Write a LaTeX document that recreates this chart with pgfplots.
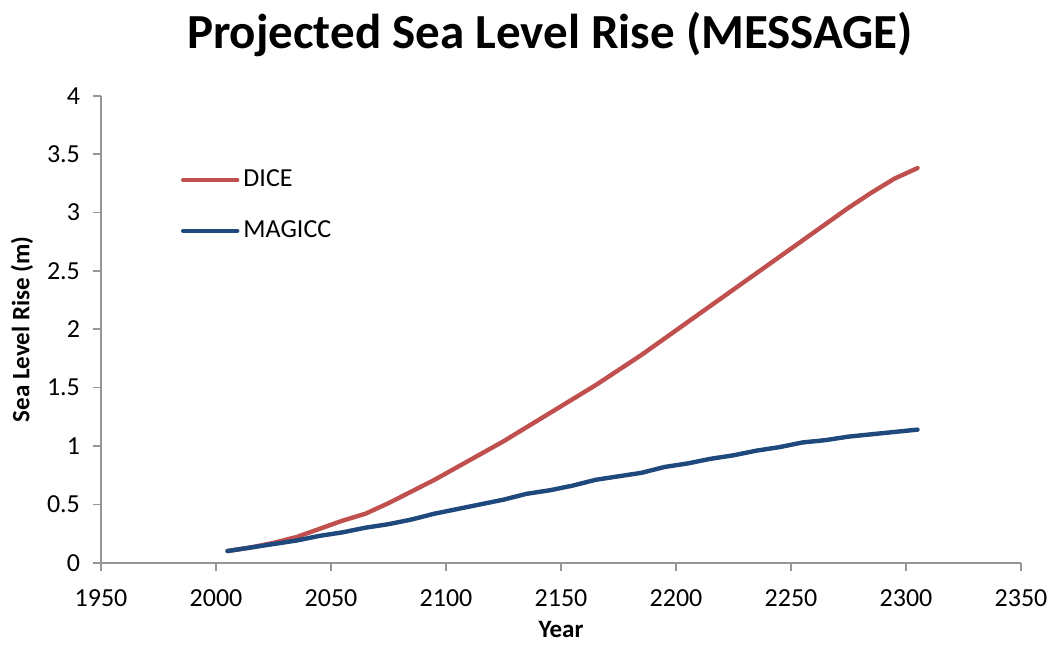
\documentclass[border=0pt]{standalone}
\usepackage{pgfplots}
\pgfplotsset{compat=1.18}
\usepackage{fontspec}
\setmainfont{Carlito}
\definecolor{diceRed}{RGB}{192,80,77}
\definecolor{magBlue}{RGB}{31,73,125}
\definecolor{axGray}{RGB}{150,150,150}
\begin{document}
\begin{tikzpicture}
% page = reference frame, axis box sits at the origin
\path[use as bounding box] (-50.5pt,-41.15pt) rectangle (476pt,281.35pt);
\begin{axis}[
  at={(0,0)}, anchor=south west,
  scale only axis,
  width=460pt, height=233.5pt,
  xmin=1950, xmax=2350, ymin=0, ymax=4,
  xtick distance=50, ytick distance=0.5,
  axis x line*=bottom, axis y line*=left,
  axis line style={axGray, line width=0.8pt},
  tick style={axGray, line width=0.8pt},
  tick align=outside, major tick length=4pt,
  /pgf/number format/assume math mode=true,
  x tick label style={/pgf/number format/set thousands separator={}, font=\fontsize{13}{14}\selectfont, yshift=-6pt},
  y tick label style={font=\fontsize{13}{14}\selectfont, xshift=-3pt},
  xlabel={\textbf{Year}}, ylabel={\textbf{Sea Level Rise (m)}},
  label style={font=\fontsize{12.5}{14}\selectfont},
  xlabel style={yshift=-1.5pt, inner sep=2pt},
  title={\textbf{Projected Sea Level Rise (MESSAGE)}},
  title style={at={(0.488,1)}, anchor=center, yshift=24.5pt, font=\fontsize{24.5}{28}\selectfont},
  legend style={draw=none, fill=none, at={(0.08,0.859)}, anchor=north west,
    font=\fontsize{13}{14}\selectfont, row sep=11.5pt},
  legend cell align=left,
  legend image code/.code={\draw[#1, line cap=round] (0cm,0cm) -- (0.95cm,0cm);},
]
\addplot[diceRed, line width=2.2pt, line cap=round, line join=round] coordinates {
(2005,0.10) (2015,0.13) (2025,0.17) (2035,0.22) (2045,0.29) (2055,0.36)
(2065,0.42) (2075,0.51) (2085,0.61) (2095,0.71) (2105,0.82) (2115,0.93)
(2125,1.04) (2135,1.16) (2145,1.28) (2155,1.40) (2165,1.52) (2175,1.65)
(2185,1.78) (2195,1.92) (2205,2.06) (2215,2.20) (2225,2.34) (2235,2.48)
(2245,2.62) (2255,2.76) (2265,2.90) (2275,3.04) (2285,3.17) (2295,3.29)
(2305,3.38)};
\addlegendentry{DICE}
\addplot[magBlue, line width=2.2pt, line cap=round, line join=round] coordinates {
(2005,0.10) (2015,0.13) (2025,0.16) (2035,0.19) (2045,0.23) (2055,0.26)
(2065,0.30) (2075,0.33) (2085,0.37) (2095,0.42) (2105,0.46) (2115,0.50)
(2125,0.54) (2135,0.59) (2145,0.62) (2155,0.66) (2165,0.71) (2175,0.74)
(2185,0.77) (2195,0.82) (2205,0.85) (2215,0.89) (2225,0.92) (2235,0.96)
(2245,0.99) (2255,1.03) (2265,1.05) (2275,1.08) (2285,1.10) (2295,1.12)
(2305,1.14)};
\addlegendentry{MAGICC}
\end{axis}
\end{tikzpicture}
\end{document}
